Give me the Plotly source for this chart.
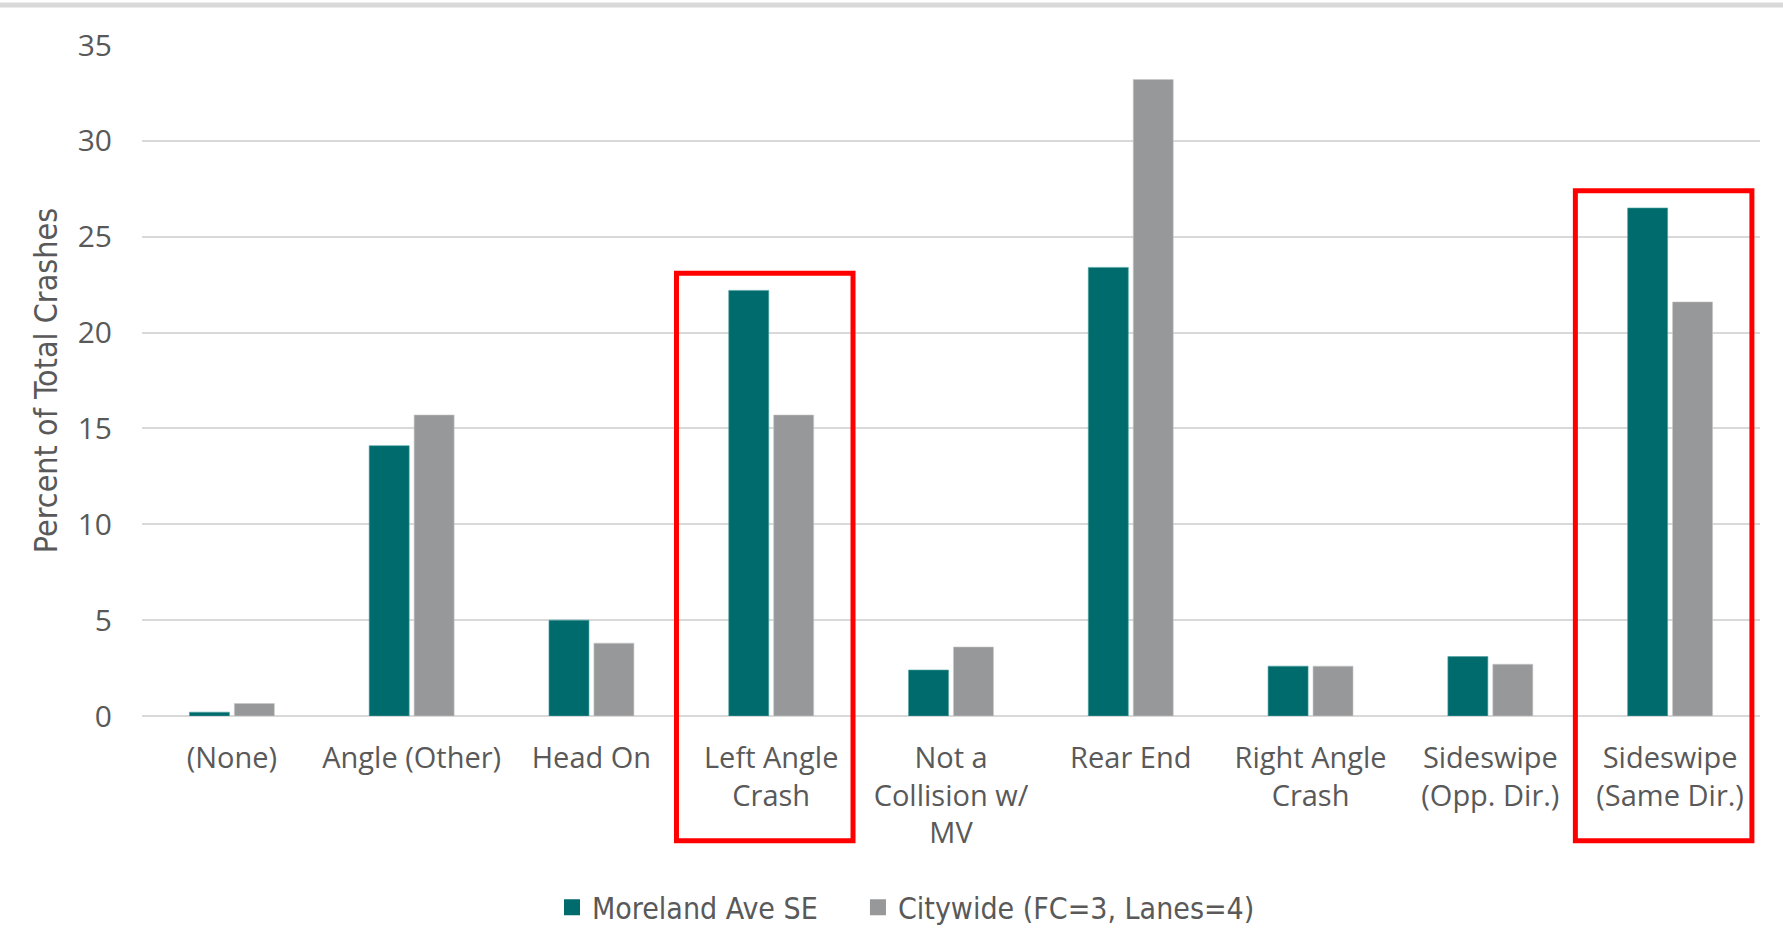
import plotly.graph_objects as go

categories = ["(None)", "Angle (Other)", "Head On", "Left Angle<br>Crash",
              "Not a<br>Collision w/<br>MV", "Rear End", "Right Angle<br>Crash",
              "Sideswipe<br>(Opp. Dir.)", "Sideswipe<br>(Same Dir.)"]
moreland = [0.2, 14.1, 5.0, 22.2, 2.4, 23.4, 2.6, 3.1, 26.5]
citywide = [0.65, 15.7, 3.8, 15.7, 3.6, 33.2, 2.6, 2.7, 21.6]
series_names = ["Moreland Ave SE", "Citywide (FC=3, Lanes=4)"]
highlight_idx = [3, 8]
y_ticks = [0, 5, 10, 15, 20, 25, 30, 35]

TEAL = "#006B6C"
GRAY = "#979899"
TXT = "#595959"
GRID = "#D9D9D9"
NARROW = "Liberation Sans Narrow, DejaVu Sans Condensed"

fig = go.Figure()
x_idx = list(range(len(categories)))
fig.add_trace(go.Bar(x=x_idx, y=moreland, name=series_names[0], showlegend=False,
                     marker=dict(color=TEAL, line=dict(color="#4FA3A3", width=0.6))))
fig.add_trace(go.Bar(x=x_idx, y=citywide, name=series_names[1], showlegend=False,
                     marker=dict(color=GRAY, line=dict(color="#C8C8C8", width=0.6))))
# legend entries with larger square swatches, each in its own legend for spacing
for name, col, lg in zip(series_names, [TEAL, GRAY], ["legend", "legend2"]):
    fig.add_trace(go.Scatter(x=[None], y=[None], mode="markers", name=name, legend=lg,
                             marker=dict(symbol="square", size=22, color=col)))

shapes = []
n = len(categories)
for i in highlight_idx:
    top = max(moreland[i], citywide[i]) + 0.9
    shapes.append(dict(type="rect", xref="x domain", yref="y domain",
                       x0=i / n - 0.003, x1=(i + 1) / n - 0.005,
                       y0=-0.186, y1=top / 35,
                       line=dict(color="#FF0000", width=5), layer="above"))
# top border line
shapes.append(dict(type="line", xref="paper", yref="paper", x0=-0.1, x1=1.02,
                   y0=1.0597, y1=1.0597, line=dict(color=GRID, width=5)))

legend_common = dict(orientation="h", xanchor="left", y=-0.285, yanchor="middle",
                     font=dict(family=NARROW, size=30, color=TXT), itemwidth=30)

fig.update_layout(
    width=1783, height=928,
    margin=dict(l=142, r=23, t=45, b=212, autoexpand=False),
    paper_bgcolor="white", plot_bgcolor="white",
    barmode="group", bargap=0.5, bargroupgap=0.11,
    font=dict(family="Open Sans", color=TXT, size=28),
    showlegend=True,
    legend=dict(x=0.2534, **legend_common),
    legend2=dict(x=0.4425, **legend_common),
    shapes=shapes,
)
fig.update_xaxes(tickmode="array", tickvals=x_idx, ticktext=categories, automargin=False,
                 range=[-0.5, n - 0.5], showgrid=False, showline=False, ticks="",
                 tickfont=dict(size=29, color=TXT), ticklabelstandoff=22, tickangle=0)
fig.update_yaxes(range=[0, 35], tickvals=y_ticks, showgrid=True, gridcolor=GRID, gridwidth=2,
                 automargin=False,
                 zeroline=True, zerolinecolor=GRID, zerolinewidth=2, showline=False, ticks="",
                 tickfont=dict(size=30, color=TXT), ticklabelstandoff=29,
                 title=dict(text="Percent of Total Crashes", standoff=10,
                            font=dict(family=NARROW, size=32, color=TXT)))

fig.write_html("out.html", config={"displayModeBar": False},
               post_script="document.body.style.margin='0';")
